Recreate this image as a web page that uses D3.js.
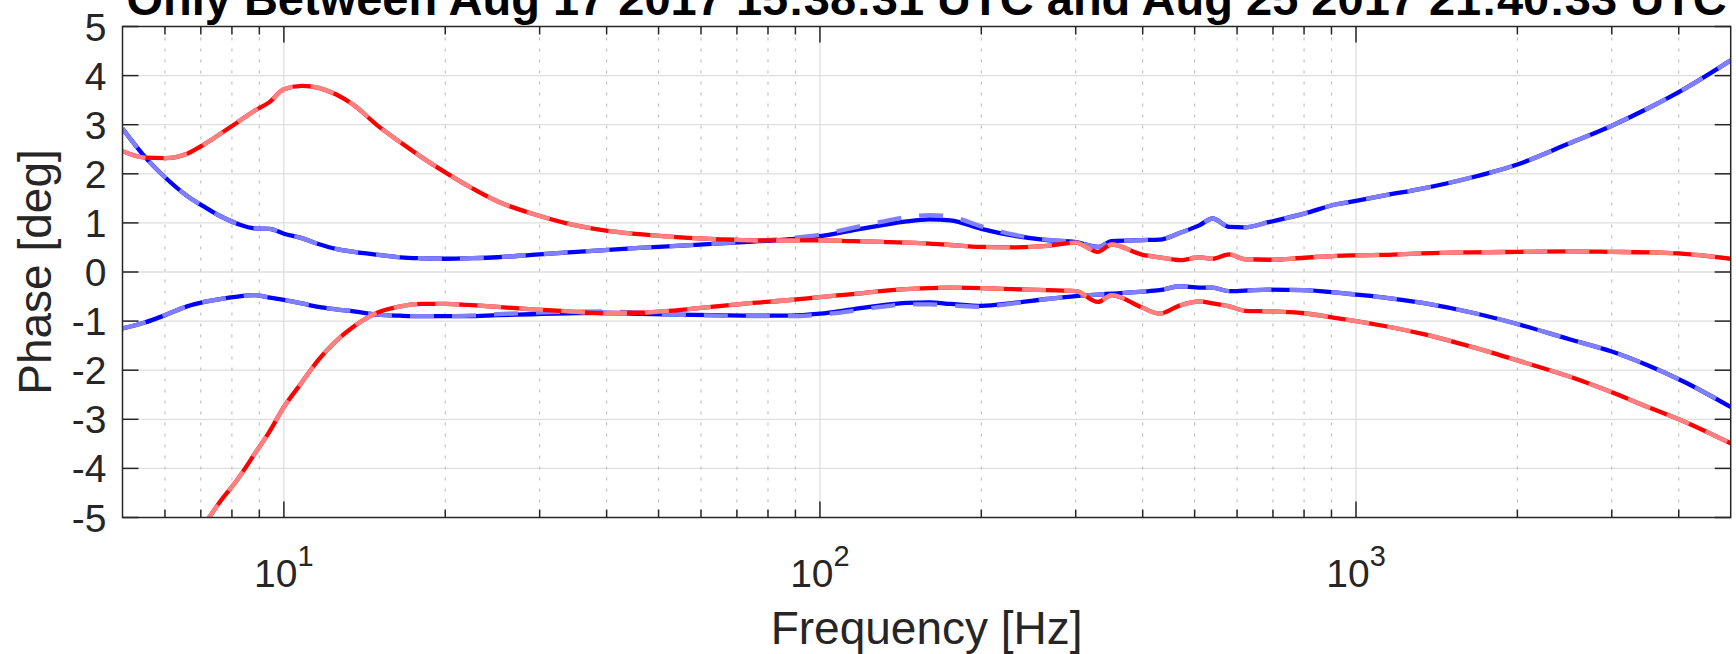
<!DOCTYPE html>
<html>
<head>
<meta charset="utf-8">
<script src="https://cdn.jsdelivr.net/npm/d3@7"></script>
<style>
  body { margin: 0; background: #fff; }
  text { font-family: "Liberation Sans", Arial, sans-serif; }
</style>
</head>
<body>
<div id="chart"></div>
<script>
// frequency grid shared by all curves [Hz]
const freq = [5, 5.5, 6, 6.6, 7.1, 7.6, 8.2, 8.8, 9.4, 10, 10.8, 11.6, 12.5, 13.5, 15, 16.5, 18, 20, 22, 25,
  29, 34, 39, 46, 54, 64, 75, 88, 100, 115, 130, 145, 160, 175, 200, 230, 265, 300, 330, 350,
  400, 430, 470, 510, 540, 580, 620, 690, 800, 920, 1000, 1130, 1330, 1650, 2000, 2500, 3000, 3500, 4100, 5000];

// phase [deg]
const blueUpper = [2.92, 2.35, 1.93, 1.55, 1.33, 1.14, 0.98, 0.89, 0.88, 0.78, 0.69, 0.57, 0.47, 0.41, 0.35, 0.30, 0.28, 0.27, 0.28, 0.30,
  0.35, 0.40, 0.44, 0.49, 0.53, 0.58, 0.62, 0.67, 0.73, 0.85, 0.95, 1.03, 1.07, 1.05, 0.88, 0.74, 0.65, 0.61, 0.51, 0.63,
  0.65, 0.66, 0.80, 0.95, 1.09, 0.92, 0.91, 1.02, 1.19, 1.38, 1.45, 1.56, 1.70, 1.93, 2.19, 2.62, 2.98, 3.33, 3.73, 4.31];
const blueUpperRef = [2.92, 2.35, 1.93, 1.55, 1.33, 1.14, 0.98, 0.89, 0.88, 0.78, 0.69, 0.57, 0.47, 0.41, 0.35, 0.30, 0.28, 0.27, 0.28, 0.30,
  0.35, 0.40, 0.44, 0.49, 0.53, 0.58, 0.63, 0.69, 0.76, 0.90, 1.02, 1.12, 1.16, 1.13, 0.93, 0.76, 0.66, 0.61, 0.51, 0.63,
  0.65, 0.66, 0.80, 0.95, 1.09, 0.92, 0.91, 1.02, 1.19, 1.38, 1.45, 1.56, 1.70, 1.93, 2.19, 2.62, 2.98, 3.33, 3.73, 4.31];
const blueLower = [-1.15, -1.03, -0.88, -0.70, -0.61, -0.55, -0.50, -0.47, -0.52, -0.57, -0.64, -0.71, -0.76, -0.80, -0.87, -0.89, -0.90, -0.90, -0.90, -0.88,
  -0.86, -0.84, -0.83, -0.85, -0.87, -0.88, -0.89, -0.89, -0.85, -0.76, -0.68, -0.63, -0.62, -0.65, -0.69, -0.63, -0.55, -0.49, -0.46, -0.44,
  -0.40, -0.37, -0.29, -0.32, -0.32, -0.39, -0.38, -0.36, -0.37, -0.42, -0.46, -0.52, -0.63, -0.83, -1.06, -1.37, -1.62, -1.90, -2.24, -2.75];
const blueLowerRef = [-1.15, -1.03, -0.88, -0.70, -0.61, -0.55, -0.50, -0.47, -0.52, -0.57, -0.64, -0.71, -0.76, -0.80, -0.87, -0.89, -0.90, -0.90, -0.89, -0.86,
  -0.83, -0.81, -0.80, -0.83, -0.87, -0.89, -0.90, -0.90, -0.87, -0.79, -0.71, -0.66, -0.66, -0.68, -0.71, -0.64, -0.55, -0.49, -0.46, -0.44,
  -0.40, -0.37, -0.29, -0.32, -0.32, -0.39, -0.38, -0.36, -0.37, -0.42, -0.46, -0.52, -0.63, -0.83, -1.06, -1.37, -1.62, -1.90, -2.24, -2.75];
const redUpper = [2.46, 2.33, 2.32, 2.41, 2.60, 2.81, 3.05, 3.28, 3.46, 3.72, 3.79, 3.75, 3.62, 3.40, 2.97, 2.64, 2.35, 2.03, 1.76, 1.44,
  1.19, 0.98, 0.86, 0.77, 0.71, 0.67, 0.645, 0.645, 0.645, 0.63, 0.615, 0.60, 0.58, 0.55, 0.51, 0.50, 0.53, 0.60, 0.41, 0.56,
  0.35, 0.30, 0.24, 0.30, 0.27, 0.36, 0.26, 0.25, 0.29, 0.33, 0.34, 0.35, 0.38, 0.40, 0.41, 0.42, 0.41, 0.40, 0.37, 0.27];
const redLower = [null, null, null, null, -5.15, -4.68, -4.22, -3.72, -3.25, -2.75, -2.25, -1.79, -1.41, -1.11, -0.82, -0.70, -0.65, -0.65, -0.67, -0.71,
  -0.76, -0.80, -0.84, -0.83, -0.78, -0.70, -0.63, -0.57, -0.51, -0.45, -0.39, -0.35, -0.33, -0.32, -0.33, -0.35, -0.37, -0.39, -0.61, -0.47,
  -0.73, -0.85, -0.68, -0.60, -0.64, -0.70, -0.79, -0.80, -0.84, -0.94, -1.00, -1.10, -1.26, -1.53, -1.80, -2.13, -2.45, -2.75, -3.05, -3.49];

const xMajor = [10, 100, 1000];
const xMinor = [6, 7, 8, 9, 20, 30, 40, 50, 60, 70, 80, 90, 200, 300, 400, 500, 600, 700, 800, 900, 2000, 3000, 4000];
const yTicks = [-5, -4, -3, -2, -1, 0, 1, 2, 3, 4, 5];

const titleText = "Only Between Aug 17 2017 15:38:31 UTC and Aug 25 2017 21:40:33 UTC";

const W = 1736, H = 654;
const plot = { left: 122.5, right: 1730.7, top: 26.5, bottom: 517.5 };
const axisColor = "#262626";

const svg = d3.select("#chart").append("svg")
  .attr("width", W).attr("height", H);

const x = d3.scaleLog().domain([5, 5000]).range([plot.left, plot.right]);
const y = d3.scaleLinear().domain([-5, 5]).range([plot.bottom, plot.top]);

// grid
const grid = svg.append("g");
grid.selectAll(".ygrid").data(yTicks.filter(d => d > -5 && d < 5)).enter().append("line")
  .attr("x1", plot.left).attr("x2", plot.right)
  .attr("y1", d => y(d)).attr("y2", d => y(d))
  .attr("stroke", "#dedede").attr("stroke-width", 1.3);
grid.selectAll(".xminor").data(xMinor).enter().append("line")
  .attr("x1", d => x(d)).attr("x2", d => x(d))
  .attr("y1", plot.top).attr("y2", plot.bottom)
  .attr("stroke", "#bdbdbd").attr("stroke-width", 1.1)
  .attr("stroke-dasharray", "3,8");
grid.selectAll(".xmajor").data(xMajor).enter().append("line")
  .attr("x1", d => x(d)).attr("x2", d => x(d))
  .attr("y1", plot.top).attr("y2", plot.bottom)
  .attr("stroke", "#dedede").attr("stroke-width", 1.3);

// curves
svg.append("clipPath").attr("id", "plotClip")
  .append("rect").attr("x", plot.left).attr("y", plot.top)
  .attr("width", plot.right - plot.left).attr("height", plot.bottom - plot.top);

const line = d3.line()
  .defined(d => d[1] !== null)
  .x(d => x(d[0]))
  .y(d => y(d[1]))
  .curve(d3.curveMonotoneX);

const series = [
  { values: blueUpper, color: "#0000ff", dash: null },
  { values: blueUpperRef, color: "#8080ff", dash: "24,18" },
  { values: blueLower, color: "#0000ff", dash: null },
  { values: blueLowerRef, color: "#8080ff", dash: "24,18" },
  { values: redUpper, color: "#ff0000", dash: null },
  { values: redUpper, color: "#ff8080", dash: "24,18" },
  { values: redLower, color: "#ff0000", dash: null },
  { values: redLower, color: "#ff8080", dash: "24,18" }
];

const curves = svg.append("g").attr("clip-path", "url(#plotClip)");
series.forEach(s => {
  curves.append("path")
    .datum(freq.map((f, i) => [f, s.values[i]]))
    .attr("fill", "none")
    .attr("stroke", s.color)
    .attr("stroke-width", 4.3)
    .attr("stroke-dasharray", s.dash)
    .attr("d", line);
});

// box + inward ticks
const axes = svg.append("g").attr("stroke", axisColor).attr("stroke-width", 1.5);
axes.append("rect")
  .attr("x", plot.left).attr("y", plot.top)
  .attr("width", plot.right - plot.left).attr("height", plot.bottom - plot.top)
  .attr("fill", "none");
const xTickAll = xMajor.map(d => ({ v: d, len: 16 })).concat(xMinor.map(d => ({ v: d, len: 8 })));
xTickAll.forEach(t => {
  axes.append("line").attr("x1", x(t.v)).attr("x2", x(t.v)).attr("y1", plot.bottom).attr("y2", plot.bottom - t.len);
  axes.append("line").attr("x1", x(t.v)).attr("x2", x(t.v)).attr("y1", plot.top).attr("y2", plot.top + t.len);
});
yTicks.forEach(t => {
  axes.append("line").attr("x1", plot.left).attr("x2", plot.left + 16).attr("y1", y(t)).attr("y2", y(t));
  axes.append("line").attr("x1", plot.right).attr("x2", plot.right - 16).attr("y1", y(t)).attr("y2", y(t));
});

// tick labels
svg.append("g").selectAll("text").data(yTicks).enter().append("text")
  .attr("x", plot.left - 16).attr("y", d => y(d))
  .attr("dy", "0.36em")
  .attr("text-anchor", "end")
  .attr("font-size", 39)
  .attr("fill", axisColor)
  .text(d => d);

const xl = svg.append("g").selectAll("text").data(xMajor).enter().append("text")
  .attr("x", d => x(d)).attr("y", 587)
  .attr("text-anchor", "middle")
  .attr("font-size", 39)
  .attr("fill", axisColor);
xl.append("tspan").text("10");
xl.append("tspan").attr("dy", -21).attr("font-size", 29).text(d => Math.round(Math.log10(d)));

// axis labels
svg.append("text")
  .attr("x", (plot.left + plot.right) / 2).attr("y", 644)
  .attr("text-anchor", "middle")
  .attr("font-size", 46)
  .attr("fill", axisColor)
  .text("Frequency [Hz]");

svg.append("text")
  .attr("transform", "translate(51," + ((plot.top + plot.bottom) / 2) + ") rotate(-90)")
  .attr("text-anchor", "middle")
  .attr("font-size", 46)
  .attr("fill", axisColor)
  .text("Phase [deg]");

// title (cut off by the top edge, as in the original)
svg.append("text")
  .attr("x", (plot.left + plot.right) / 2).attr("y", 15)
  .attr("text-anchor", "middle")
  .attr("font-size", 47)
  .attr("font-weight", "bold")
  .attr("fill", "#000")
  .text(titleText);
</script>
</body>
</html>
